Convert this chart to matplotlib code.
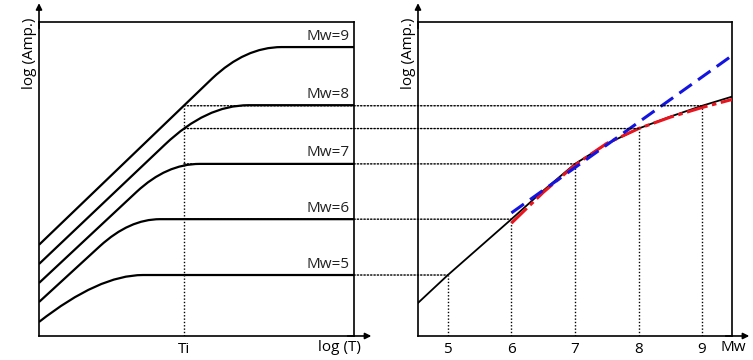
import matplotlib.pyplot as plt
from matplotlib.path import Path
from matplotlib.patches import PathPatch, ConnectionPatch

plt.rcParams['font.family'] = ['Open Sans', 'DejaVu Sans']

# spectra: log(Amp) vs log(T) for each magnitude
mw_levels = [5, 6, 7, 8, 9]
amp_start = [0.246, 0.596, 0.93, 1.263, 1.60]
bend_x = [0.0, 0.194, 0.31, 0.40, 0.55]
bend_amp = [0.246, 1.58, 2.53, 3.36, 4.52]
corner_x = [0.19, 0.287, 0.405, 0.531, 0.655]
flat_x = [0.33, 0.384, 0.51, 0.665, 0.77]
plateau = [1.07, 2.05, 3.02, 4.05, 5.07]

Ti = 0.46
amp_at_Ti = [1.07, 2.05, 3.02, 3.64, 4.04]

# amplitude at Ti vs Mw
mw_grid = [4.53, 5.0, 5.5, 6.0, 6.5, 7.0, 7.5, 8.0, 8.5, 9.0, 9.47]
amp_curve = [0.58, 1.07, 1.56, 2.05, 2.55, 3.02, 3.37, 3.64, 3.85, 4.04, 4.20]
mw_red = [6.0, 6.5, 7.0, 7.5, 8.0, 8.5, 9.0, 9.47]
amp_red = [1.98, 2.52, 3.0, 3.38, 3.64, 3.84, 4.01, 4.15]
mw_blue = [6.0, 9.47]
amp_blue = [2.16, 4.92]

YMAX = 5.51
FS = 11

fig = plt.figure(figsize=(7.53, 3.6), dpi=100)
ax1 = fig.add_axes([0.0518, 0.0667, 0.4183, 0.8722])
ax2 = fig.add_axes([0.5551, 0.0667, 0.4170, 0.8722])

dot = (0, (1, 1.4))

for ax in (ax1, ax2):
    for s in ax.spines.values():
        s.set_linewidth(1.2)
    ax.set_yticks([])
    ax.tick_params(axis='x', length=0, pad=4, labelsize=FS)
    ax.set_ylim(0, YMAX)
    ax.text(-0.03, 0.9, 'log (Amp.)', transform=ax.transAxes, rotation=90,
            ha='center', va='center', fontsize=FS)
    # axis arrows
    ax.annotate('', xy=(0, 1.06), xytext=(0, 0.98), xycoords='axes fraction',
                arrowprops=dict(arrowstyle='-|>', color='black', lw=1.2,
                                mutation_scale=9, shrinkA=0, shrinkB=0),
                annotation_clip=False)
    ax.annotate('', xy=(1.055, 0), xytext=(0.98, 0), xycoords='axes fraction',
                arrowprops=dict(arrowstyle='-|>', color='black', lw=1.2,
                                mutation_scale=9, shrinkA=0, shrinkB=0),
                annotation_clip=False)

# left panel
ax1.set_xlim(0, 1)
ax1.set_xticks([Ti])
ax1.set_xticklabels(['Ti'])
for i, mw in enumerate(mw_levels):
    verts = [(0, amp_start[i])]
    codes = [Path.MOVETO]
    if bend_x[i] > 0:
        verts.append((bend_x[i], bend_amp[i]))
        codes.append(Path.LINETO)
    verts += [(corner_x[i], plateau[i]), (flat_x[i], plateau[i]), (1, plateau[i])]
    codes += [Path.CURVE3, Path.CURVE3, Path.LINETO]
    ax1.add_patch(PathPatch(Path(verts, codes), fill=False, lw=1.6,
                            edgecolor='black', zorder=3))
    ax1.text(0.985, plateau[i] + 0.06, 'Mw=%d' % mw, ha='right', va='bottom',
             fontsize=FS, color='#222222')
ax1.plot([Ti, Ti], [0, amp_at_Ti[-1]], color='black', lw=1.0, ls=dot, zorder=2)
ax1.text(0.955, -0.037, 'log (T)', transform=ax1.transAxes, ha='center',
         va='center', fontsize=FS)

# right panel
ax2.set_xlim(4.53, 9.47)
ax2.set_xticks(mw_levels)
ax2.text(9.49, -0.037, 'Mw', transform=ax2.get_xaxis_transform(), ha='center',
         va='center', fontsize=FS)
ax2.plot(mw_grid, amp_curve, color='black', lw=1.3, zorder=3)
ax2.plot(mw_red, amp_red, color='#e8141e', lw=2.2, zorder=4,
         ls=(0, (7, 1.5, 1.5, 1.5)))
ax2.plot(mw_blue, amp_blue, color='#1414e0', lw=2.2, zorder=5,
         ls=(0, (5, 2.5)))
for mw, a in zip(mw_levels, amp_at_Ti):
    ax2.plot([mw, mw], [0, a], color='black', lw=1.0, ls=dot, zorder=2)
    con = ConnectionPatch(xyA=(Ti, a), coordsA=ax1.transData,
                          xyB=(mw, a), coordsB=ax2.transData,
                          color='black', lw=1.0, ls=dot, zorder=1)
    fig.add_artist(con)

fig.savefig('out.png', dpi=100)
